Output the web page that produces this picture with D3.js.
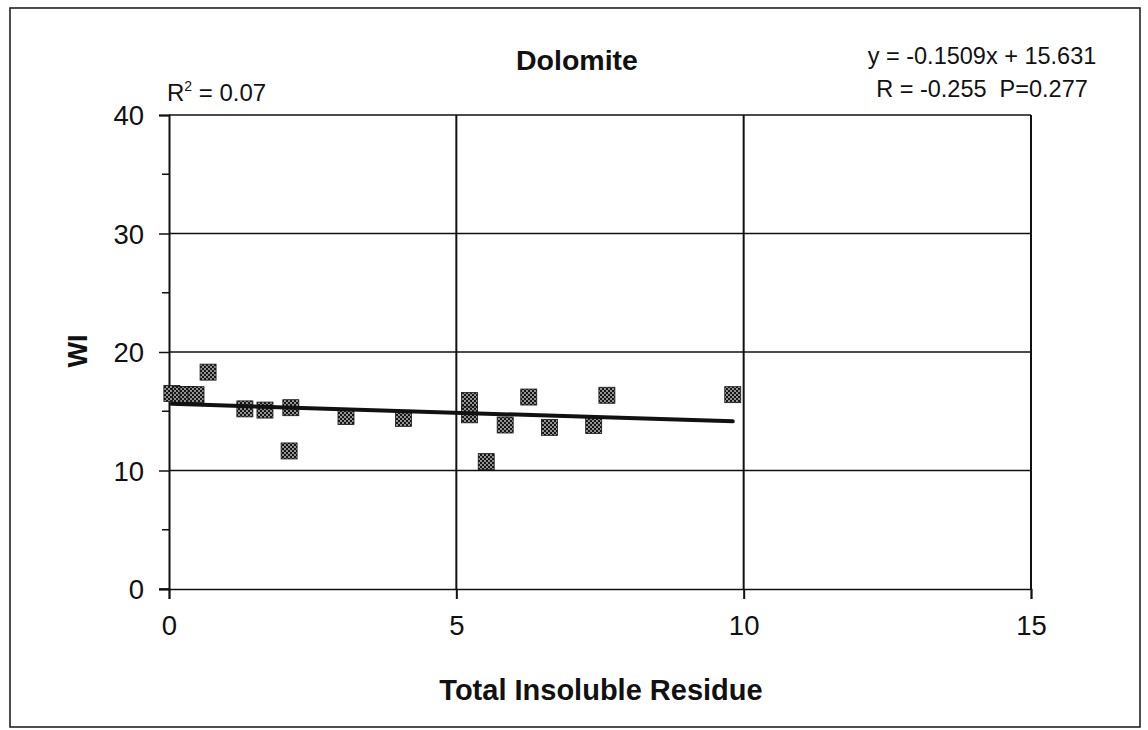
<!DOCTYPE html>
<html>
<head>
<meta charset="utf-8">
<script src="https://cdn.jsdelivr.net/npm/d3@7"></script>
<style>
  html, body { margin: 0; padding: 0; background: #fff; }
  svg { display: block; }
  text { font-family: "Liberation Sans", Arial, Helvetica, sans-serif; fill: #111; }
</style>
</head>
<body>
<svg id="chart" width="1148" height="730"></svg>
<script>
// Total insoluble residue (x) vs. WI (y), dolomite samples
const residue = [0.05, 0.2, 0.33, 0.47, 0.68, 1.32, 1.67, 2.12, 2.09, 3.08, 4.08, 5.23, 5.23, 5.52, 5.85, 6.26, 6.62, 7.39, 7.62, 9.81];
const wi      = [16.5, 16.4, 16.4, 16.4, 18.3, 15.2, 15.1, 15.3, 11.65, 14.55, 14.4, 15.9, 14.7, 10.75, 13.84, 16.2, 13.64, 13.8, 16.35, 16.4];

// Least-squares fit as reported on the chart
const fitSlope = -0.1509;
const fitIntercept = 15.631;

const xTicks = [0, 5, 10, 15];
const yTicks = [0, 10, 20, 30, 40];
const yMinorTicks = [5, 15, 25, 35];

const titleText = "Dolomite";
const xTitle = "Total Insoluble Residue";
const yTitle = "WI";
const eqLine1 = "y = -0.1509x + 15.631";
const eqLine2 = "R = -0.255  P=0.277";

const svg = d3.select("#chart");

const x = d3.scaleLinear().domain([0, 15]).range([169, 1031]);
const y = d3.scaleLinear().domain([0, 40]).range([589, 115]);

// halftone fill for the markers (staggered light dots on a dark ground)
const defs = svg.append("defs");
const pat = defs.append("pattern")
  .attr("id", "dots").attr("patternUnits", "userSpaceOnUse")
  .attr("width", 4).attr("height", 4);
pat.append("rect").attr("width", 4).attr("height", 4).attr("fill", "#161616");
pat.append("circle").attr("cx", 1).attr("cy", 1).attr("r", 0.9).attr("fill", "#cfcfcf");
pat.append("circle").attr("cx", 3).attr("cy", 3).attr("r", 0.9).attr("fill", "#cfcfcf");

// outer frame
svg.append("rect")
  .attr("x", 10).attr("y", 8).attr("width", 1130).attr("height", 719)
  .attr("fill", "none").attr("stroke", "#222").attr("stroke-width", 1.6);

// grid
const grid = svg.append("g");
grid.selectAll("line.h").data(yTicks.filter(d => d > 0)).join("line")
  .attr("x1", x(0)).attr("x2", x(15))
  .attr("y1", d => y(d)).attr("y2", d => y(d))
  .attr("stroke", "#111").attr("stroke-width", 1.5);
grid.selectAll("line.v").data(xTicks.filter(d => d > 0)).join("line")
  .attr("y1", y(0)).attr("y2", y(40))
  .attr("x1", d => x(d)).attr("x2", d => x(d))
  .attr("stroke", "#111").attr("stroke-width", 2);

// y axis
const yAxis = svg.append("g").attr("transform", `translate(${x(0)},0)`)
  .call(d3.axisLeft(y).tickValues(yTicks).tickSize(10).tickPadding(15).tickFormat(d3.format("d")));
yAxis.select(".domain").attr("stroke", "#111").attr("stroke-width", 2);
yAxis.selectAll(".tick line").attr("stroke", "#111").attr("stroke-width", 1.5);
yAxis.selectAll(".tick text")
  .style("font-size", "27.5px").style("font-family", "'Liberation Sans', Arial, sans-serif")
  .attr("fill", "#111").attr("dy", "0.36em");
yAxis.selectAll("line.minor").data(yMinorTicks).join("line")
  .attr("class", "minor")
  .attr("x1", -7).attr("x2", 0)
  .attr("y1", d => y(d)).attr("y2", d => y(d))
  .attr("stroke", "#111").attr("stroke-width", 1.5);

// x axis
const xAxis = svg.append("g").attr("transform", `translate(0,${y(0)})`)
  .call(d3.axisBottom(x).tickValues(xTicks).tickSize(10).tickPadding(16).tickFormat(d3.format("d")));
xAxis.select(".domain").attr("stroke", "#111").attr("stroke-width", 1.5);
xAxis.selectAll(".tick line").attr("stroke", "#111").attr("stroke-width", 2);
xAxis.selectAll(".tick text")
  .style("font-size", "27.5px").style("font-family", "'Liberation Sans', Arial, sans-serif")
  .attr("fill", "#111");
// small stub of the x axis to the left of the origin
svg.append("line").attr("x1", x(0) - 10).attr("x2", x(0))
  .attr("y1", y(0)).attr("y2", y(0)).attr("stroke", "#111").attr("stroke-width", 1.5);

// data markers
const pts = residue.map((d, i) => ({ x: d, y: wi[i] }));
const ms = 16;
svg.append("g").selectAll("rect").data(pts).join("rect")
  .attr("x", d => x(d.x) - ms / 2).attr("y", d => y(d.y) - ms / 2)
  .attr("width", ms).attr("height", ms)
  .attr("fill", "url(#dots)").attr("stroke", "#161616").attr("stroke-width", 0.8);

// regression line over the data range
const xr = d3.extent(residue);
svg.append("line")
  .attr("x1", x(xr[0])).attr("y1", y(fitSlope * xr[0] + fitIntercept))
  .attr("x2", x(xr[1])).attr("y2", y(fitSlope * xr[1] + fitIntercept))
  .attr("stroke", "#111").attr("stroke-width", 4).attr("stroke-linecap", "round");

// texts
svg.append("text").attr("x", 577).attr("y", 70).attr("text-anchor", "middle")
  .style("font-size", "28.5px").style("font-weight", "bold").text(titleText);

svg.append("text").attr("x", 982).attr("y", 64).attr("text-anchor", "middle")
  .style("font-size", "23.5px").text(eqLine1);
svg.append("text").attr("x", 982).attr("y", 97).attr("text-anchor", "middle")
  .style("font-size", "23.5px").attr("xml:space", "preserve").style("white-space", "pre").text(eqLine2);

const r2 = svg.append("text").attr("x", 167).attr("y", 101).style("font-size", "24px");
r2.append("tspan").text("R");
r2.append("tspan").attr("dy", -10).style("font-size", "14px").text("2");
r2.append("tspan").attr("dy", 10).text(" = 0.07");

svg.append("text").attr("x", 601).attr("y", 700).attr("text-anchor", "middle")
  .style("font-size", "29px").style("font-weight", "bold").text(xTitle);

svg.append("text").attr("transform", "translate(87,351) rotate(-90)").attr("text-anchor", "middle")
  .style("font-size", "27px").style("font-weight", "bold").text(yTitle);
</script>
</body>
</html>
